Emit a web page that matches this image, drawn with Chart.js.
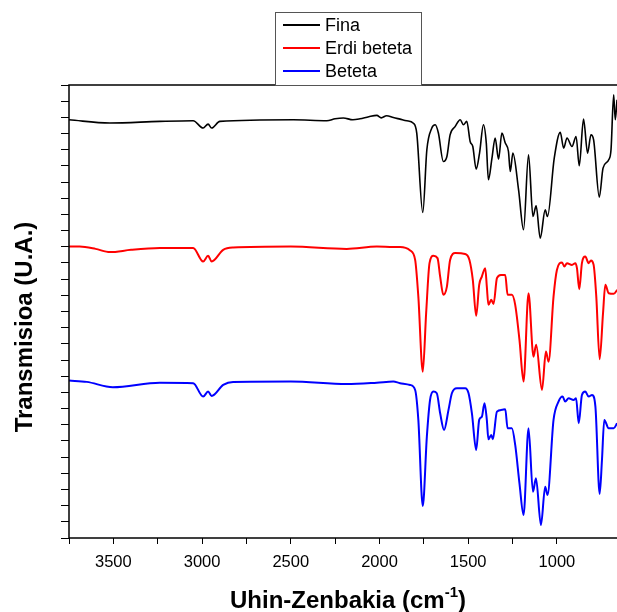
<!DOCTYPE html>
<html>
<head>
<meta charset="utf-8">
<script src="https://cdn.jsdelivr.net/npm/chart.js@4"></script>
<style>
  html, body { margin: 0; padding: 0; background: #fff; overflow: hidden; }
</style>
</head>
<body>
<canvas id="ftir" width="628" height="612"></canvas>
<script>
// wavenumbers (cm-1) and offset transmission values
var finaWn = [3750, 3520, 3238, 3050, 2994, 2966, 2946, 2900, 2486, 2297, 2250, 2204, 2150, 2110, 2060, 2015, 1990, 1960, 1922, 1884,
  1846, 1809, 1790, 1756, 1733, 1705, 1686, 1668, 1640, 1620, 1602, 1573, 1545, 1527, 1508, 1489, 1474, 1455, 1436, 1414,
  1398, 1386, 1366, 1348, 1329, 1310, 1291, 1273, 1263, 1248, 1216, 1188, 1160, 1135, 1117, 1094, 1066, 1053, 1015, 981,
  962, 943, 915, 892, 874, 850, 827, 808, 793, 761, 740, 708, 695, 680, 671, 661];
var finaT = [25.85, 25.65, 25.75, 25.79, 25.34, 25.58, 25.34, 25.75, 25.85, 25.79, 25.91, 25.96, 25.85, 25.91, 26.04, 26.12, 25.97, 26.10, 25.99, 25.89,
  25.79, 25.64, 25.03, 20.12, 24.0, 25.34, 25.54, 25.03, 23.27, 23.58, 24.92, 25.44, 25.85, 25.54, 25.75, 24.51, 24.20, 22.80, 23.79, 25.54,
  24.41, 22.14, 23.48, 24.72, 23.42, 25.03, 24.41, 23.89, 22.65, 23.79, 21.52, 19.05, 23.69, 19.87, 20.53, 18.53, 20.28, 19.87, 23.48, 25.07,
  24.10, 24.72, 24.20, 24.82, 23.01, 25.89, 23.79, 24.92, 24.61, 21.07, 22.86, 23.38, 24.0, 27.40, 25.85, 27.09];

var erdiWn = [3750, 3690, 3600, 3520, 3400, 3238, 3050, 2994, 2966, 2946, 2881, 2825, 2500, 2185, 2015, 1922, 1884, 1827, 1799, 1781,
  1756, 1737, 1718, 1696, 1673, 1658, 1640, 1620, 1602, 1573, 1517, 1493, 1474, 1455, 1438, 1423, 1404, 1395, 1386, 1370,
  1357, 1338, 1316, 1291, 1278, 1254, 1235, 1211, 1188, 1160, 1132, 1117, 1084, 1062, 1047, 1019, 1000, 971, 958, 943,
  915, 896, 887, 874, 859, 840, 821, 808, 793, 778, 759, 740, 727, 708, 680, 660];
var erdiT = [18.01, 18.01, 17.87, 17.67, 17.81, 17.92, 17.93, 17.09, 17.44, 17.09, 17.81, 17.95, 18.01, 17.87, 18.01, 17.98, 17.98, 17.77, 17.19, 14.92,
  10.28, 13.90, 16.99, 17.44, 17.30, 16.16, 15.03, 15.54, 17.19, 17.61, 17.56, 17.19, 15.96, 13.73, 15.65, 16.16, 16.68, 15.54, 14.41, 14.72,
  14.47, 16.06, 16.26, 16.26, 15.03, 15.03, 14.41, 12.24, 9.67, 15.13, 11.21, 11.94, 9.15, 11.52, 10.90, 14.92, 16.57, 17.03, 16.78, 16.99,
  16.88, 16.99, 16.68, 15.38, 16.99, 17.40, 16.99, 17.15, 16.88, 14.92, 11.05, 13.90, 15.65, 15.13, 15.09, 15.34];

var betetaWn = [3750, 3650, 3503, 3238, 3050, 2994, 2966, 2946, 2881, 2825, 2500, 2185, 2015, 1922, 1884, 1827, 1799, 1781, 1756, 1733,
  1715, 1696, 1677, 1658, 1636, 1611, 1592, 1564, 1517, 1498, 1479, 1455, 1438, 1423, 1408, 1395, 1386, 1370, 1361, 1338,
  1310, 1291, 1278, 1254, 1235, 1211, 1188, 1160, 1135, 1118, 1090, 1066, 1053, 1019, 991, 968, 953, 934, 906, 892,
  877, 859, 840, 821, 802, 783, 759, 746, 733, 708, 680, 661];
var betetaT = [9.73, 9.65, 9.32, 9.60, 9.57, 8.74, 9.05, 8.78, 9.46, 9.65, 9.67, 9.52, 9.60, 9.67, 9.57, 9.46, 9.15, 7.30, 1.98, 6.27,
  8.53, 9.05, 8.95, 7.71, 6.68, 7.92, 8.95, 9.26, 9.26, 8.95, 7.71, 5.44, 7.30, 7.50, 8.33, 7.30, 6.10, 6.37, 6.10, 7.81,
  7.92, 7.96, 6.78, 6.78, 5.75, 3.38, 1.42, 6.78, 2.86, 3.69, 0.80, 3.17, 2.66, 7.30, 8.43, 8.74, 8.43, 8.64, 8.53, 8.64,
  7.09, 8.84, 9.05, 8.74, 8.84, 8.12, 2.72, 4.82, 7.30, 6.78, 6.78, 7.09];

var seriesNames = ["Fina", "Erdi beteta", "Beteta"];
var xTitle = "Uhin-Zenbakia (cm";
var yTitle = "Transmisioa (U.A.)";

function pts(xs, ys) {
  return xs.map(function (x, i) { return { x: x, y: ys[i] }; });
}

// frame, legend box and axis titles
var decor = {
  id: 'decor',
  afterDraw: function (chart) {
    var ctx = chart.ctx, a = chart.chartArea;
    ctx.save();
    ctx.strokeStyle = '#000';
    ctx.lineWidth = 1.5;
    ctx.strokeRect(a.left, a.top, a.right - a.left, a.bottom - a.top);

    // legend
    var bx = 275, by = 12, bw = 146, bh = a.top - by;
    ctx.fillStyle = '#fff';
    ctx.fillRect(bx, by, bw, bh);
    ctx.lineWidth = 1;
    ctx.strokeStyle = '#555';
    ctx.strokeRect(bx + 0.5, by + 0.5, bw, bh);
    ctx.font = '18px "Liberation Sans", Arial, sans-serif';
    ctx.textBaseline = 'middle';
    ctx.textAlign = 'left';
    chart.data.datasets.forEach(function (ds, i) {
      var yy = 25 + i * 23;
      ctx.strokeStyle = ds.borderColor;
      ctx.lineWidth = 2;
      ctx.beginPath();
      ctx.moveTo(283, yy);
      ctx.lineTo(320, yy);
      ctx.stroke();
      ctx.fillStyle = '#000';
      ctx.fillText(ds.label, 325, yy + 1);
    });

    // x title with superscript
    ctx.fillStyle = '#000';
    ctx.font = 'bold 24px "Liberation Sans", Arial, sans-serif';
    ctx.textBaseline = 'alphabetic';
    var w1 = ctx.measureText(xTitle).width;
    ctx.font = 'bold 15px "Liberation Sans", Arial, sans-serif';
    var w2 = ctx.measureText('-1').width;
    ctx.font = 'bold 24px "Liberation Sans", Arial, sans-serif';
    var w3 = ctx.measureText(')').width;
    var x0 = 348 - (w1 + w2 + w3) / 2, base = 608;
    ctx.fillText(xTitle, x0, base);
    ctx.font = 'bold 15px "Liberation Sans", Arial, sans-serif';
    ctx.fillText('-1', x0 + w1, base - 11);
    ctx.font = 'bold 24px "Liberation Sans", Arial, sans-serif';
    ctx.fillText(')', x0 + w1 + w2, base);

    // y title
    ctx.translate(25, 327);
    ctx.rotate(-Math.PI / 2);
    ctx.textAlign = 'center';
    ctx.textBaseline = 'middle';
    ctx.fillText(yTitle, 0, 0);
    ctx.restore();
  }
};

new Chart(document.getElementById('ftir'), {
  type: 'line',
  data: {
    datasets: [
      { label: seriesNames[0], data: pts(finaWn, finaT), borderColor: '#000000', borderWidth: 1.6 },
      { label: seriesNames[1], data: pts(erdiWn, erdiT), borderColor: '#ff0000', borderWidth: 2 },
      { label: seriesNames[2], data: pts(betetaWn, betetaT), borderColor: '#0000ff', borderWidth: 2 }
    ]
  },
  options: {
    responsive: false,
    animation: false,
    devicePixelRatio: 1,
    layout: { padding: { top: 85, left: 0, right: 0, bottom: 0 } },
    elements: {
      point: { radius: 0 },
      line: { cubicInterpolationMode: 'monotone', fill: false }
    },
    plugins: { legend: { display: false }, tooltip: { enabled: false } },
    scales: {
      x: {
        type: 'linear',
        reverse: true,
        min: 650,
        max: 3750,
        afterFit: function (s) { s.height = 74; },
        border: { display: false },
        grid: { drawOnChartArea: false, tickLength: 6, color: '#000', lineWidth: 1 },
        ticks: {
          stepSize: 250,
          autoSkip: false,
          maxRotation: 0,
          padding: 9,
          color: '#000',
          font: { family: '"Liberation Sans", Arial, sans-serif', size: 16.5 },
          callback: function (v) { return v % 500 === 0 ? v : ''; }
        }
      },
      y: {
        min: 0,
        max: 28,
        afterFit: function (s) { s.width = 69; },
        border: { display: false },
        grid: { drawOnChartArea: false, tickLength: 8, color: '#000', lineWidth: 1 },
        ticks: { stepSize: 1, display: false }
      }
    }
  },
  plugins: [decor]
});
</script>
</body>
</html>
